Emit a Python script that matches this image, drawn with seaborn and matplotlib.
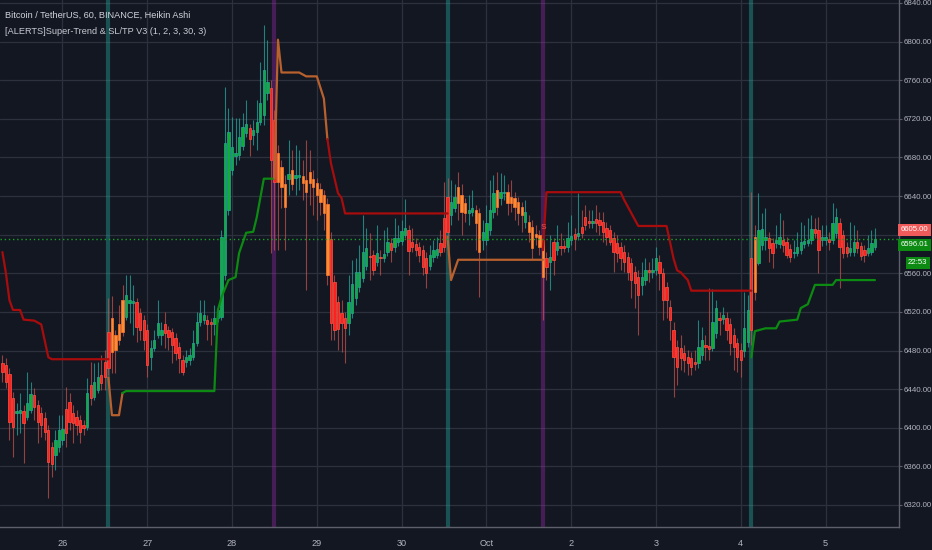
import numpy as np
import pandas as pd
import matplotlib
matplotlib.use("Agg")
import matplotlib.pyplot as plt
from matplotlib import font_manager
import seaborn as sns

# ---------------- data (hourly Heikin Ashi candles, Sep 25 07:00 -> Oct 5 14:00) ----------------
open_ = [6467,6465,6456,6431,6415,6415,6417,6411,6418,6434,
         6424,6415,6410,6398,6380,6372,6380,6387,6419,6427,
         6415,6411,6408,6403,6401,6444,6432,6439,6455,6468,
         6499,6478,6496,6491,6499,6515,6529,6529,6530,6519,
         6512,6501,6473,6483,6496,6496,6507,6501,6499,6493,
         6484,6470,6468,6470,6473,6488,6510,6512,6512,6510,
         6507,6514,6515,6558,6626,6667,6681,6683,6692,6705,
         6711,6703,6706,6717,6724,6747,6752,6719,6685,6670,
         6652,6658,6667,6659,6660,6661,6657,6654,6658,6654,
         6647,6641,6632,6596,6551,6530,6519,6514,6508,6519,
         6534,6546,6555,6568,6578,6579,6572,6577,6576,6582,
         6591,6587,6592,6593,6600,6605,6592,6590,6587,6584,
         6576,6568,6577,6579,6591,6617,6639,6620,6628,6633,
         6641,6633,6622,6624,6626,6622,6595,6595,6605,6623,
         6646,6638,6643,6644,6639,6638,6634,6629,6613,6613,
         6608,6601,6600,6595,6576,6572,6592,6584,6588,6588,
         6587,6595,6601,6599,6608,6618,6614,6612,6616,6615,
         6613,6607,6605,6597,6591,6587,6582,6577,6571,6561,
         6556,6548,6553,6563,6561,6563,6572,6560,6546,6525,
         6501,6484,6483,6477,6473,6472,6468,6467,6475,6486,
         6485,6483,6498,6514,6513,6514,6507,6496,6488,6481,
         6479,6489,6576,6541,6571,6589,6595,6597,6591,6591,
         6590,6595,6592,6585,6581,6581,6584,6590,6591,6595,
         6606,6605,6594,6595,6596,6595,6602,6612,6600,6587,
         6582,6582,6592,6588,6584,6581,6582,6587]
close = [6458,6447,6406,6401,6417,6418,6405,6426,6435,6422,
         6406,6403,6396,6365,6362,6387,6398,6399,6395,6406,
         6405,6403,6396,6400,6436,6431,6447,6453,6446,6453,
         6462,6514,6481,6507,6532,6538,6532,6531,6504,6501,
         6491,6465,6483,6491,6509,6501,6498,6494,6486,6477,
         6472,6458,6473,6475,6488,6510,6519,6517,6507,6507,
         6514,6522,6598,6695,6706,6691,6685,6701,6712,6715,
         6699,6708,6717,6736,6771,6758,6677,6655,6655,6649,
         6629,6663,6652,6662,6662,6654,6644,6665,6649,6641,
         6634,6622,6558,6509,6501,6502,6509,6503,6530,6549,
         6561,6561,6582,6586,6577,6563,6581,6576,6580,6592,
         6584,6597,6597,6604,6607,6583,6587,6584,6579,6567,
         6560,6579,6584,6585,6582,6587,6603,6634,6639,6649,
         6624,6622,6626,6628,6612,6582,6603,6612,6626,6643,
         6629,6644,6644,6633,6633,6629,6622,6620,6624,6603,
         6586,6598,6587,6556,6567,6577,6574,6592,6586,6586,
         6597,6599,6596,6602,6602,6610,6612,6614,6612,6610,
         6603,6598,6592,6582,6581,6576,6572,6561,6553,6550,
         6538,6556,6563,6561,6563,6576,6560,6532,6532,6512,
         6473,6463,6472,6470,6467,6463,6466,6484,6491,6484,
         6482,6510,6524,6512,6517,6501,6488,6484,6473,6470,
         6503,6522,6501,6598,6605,6606,6598,6586,6581,6595,
         6598,6589,6579,6577,6582,6587,6592,6593,6595,6606,
         6602,6584,6598,6598,6592,6612,6618,6587,6581,6581,
         6586,6592,6586,6578,6579,6586,6591,6596]
high = [6475,6472,6462,6437,6426,6436,6424,6458,6447,6441,
        6429,6421,6416,6403,6385,6398,6413,6413,6442,6436,
        6424,6418,6413,6408,6452,6468,6467,6468,6475,6481,
        6534,6536,6501,6527,6548,6558,6558,6548,6534,6524,
        6517,6507,6491,6501,6532,6510,6520,6505,6503,6498,
        6489,6475,6481,6483,6501,6520,6532,6532,6517,6514,
        6527,6527,6605,6753,6731,6722,6721,6721,6726,6740,
        6715,6719,6740,6779,6817,6802,6760,6729,6693,6677,
        6662,6698,6688,6693,6688,6677,6698,6688,6667,6659,
        6654,6646,6638,6603,6558,6536,6532,6520,6558,6574,
        6576,6589,6620,6607,6602,6584,6610,6584,6605,6608,
        6597,6617,6610,6615,6637,6610,6607,6597,6592,6589,
        6582,6589,6595,6598,6605,6655,6659,6657,6652,6665,
        6652,6638,6641,6646,6631,6628,6615,6631,6657,6662,
        6665,6664,6662,6652,6657,6644,6639,6634,6636,6620,
        6615,6610,6605,6610,6582,6600,6597,6610,6602,6595,
        6613,6620,6607,6643,6626,6631,6626,6626,6631,6623,
        6623,6613,6610,6603,6600,6592,6589,6582,6576,6568,
        6563,6572,6576,6572,6576,6587,6579,6565,6551,6532,
        6510,6491,6496,6486,6481,6478,6481,6512,6504,6496,
        6545,6544,6532,6520,6525,6520,6514,6503,6493,6488,
        6541,6538,6644,6610,6643,6622,6628,6603,6597,6610,
        6622,6615,6598,6590,6595,6603,6613,6610,6617,6620,
        6617,6618,6610,6610,6603,6633,6628,6617,6605,6592,
        6613,6610,6605,6592,6589,6600,6605,6607]
low = [6447,6441,6387,6370,6393,6395,6364,6408,6415,6408,
       6384,6390,6387,6327,6349,6356,6375,6382,6380,6398,
       6384,6393,6384,6393,6398,6424,6429,6436,6439,6439,
       6455,6457,6457,6486,6495,6512,6509,6496,6489,6491,
       6481,6453,6460,6479,6493,6486,6483,6481,6467,6470,
       6457,6455,6463,6465,6470,6485,6505,6507,6491,6486,
       6496,6510,6512,6553,6620,6662,6672,6677,6688,6701,
       6681,6693,6688,6714,6714,6740,6581,6584,6584,6628,
       6584,6641,6646,6641,6646,6636,6543,6631,6620,6615,
       6620,6605,6548,6491,6491,6481,6478,6467,6496,6514,
       6527,6541,6551,6563,6553,6558,6568,6558,6572,6578,
       6572,6582,6588,6589,6597,6558,6582,6578,6572,6558,
       6545,6563,6572,6576,6578,6582,6597,6610,6624,6615,
       6600,6613,6610,6619,6584,6535,6584,6589,6600,6617,
       6620,6631,6636,6620,6624,6615,6610,6603,6607,6592,
       6574,6589,6579,6512,6553,6543,6558,6579,6579,6582,
       6582,6589,6584,6595,6597,6605,6607,6607,6603,6600,
       6592,6589,6589,6561,6572,6563,6561,6553,6534,6524,
       6496,6538,6548,6551,6555,6558,6543,6512,6514,6491,
       6432,6444,6460,6458,6455,6455,6460,6462,6470,6470,
       6470,6479,6493,6496,6507,6491,6475,6460,6458,6453,
       6473,6484,6486,6532,6569,6584,6584,6572,6565,6586,
       6586,6582,6576,6572,6576,6578,6580,6586,6588,6590,
       6597,6560,6588,6589,6584,6590,6597,6545,6576,6577,
       6578,6578,6581,6574,6572,6578,6579,6584]
# candle state: g = up, r = down, o = signal (SL/TP) bar
state = list("rrrrggrggr" "rrrrrgggrr" "rrrrgrggrr" "roooogggrr" "rrggggrrrr"
             "rrggggggrr" "gggggggggg" "rgggggrroo" "ogoggooooo" "ooorrrrrgg"
             "ggggrrgrgg" "rggggrrrrr" "rgggrrrggo" "ooggoogggg" "oggooooogo"
             "oooorgrgrr" "ggrgrrrgrr" "rrrrrrrrrr" "rggrggrrrr" "rrrrrrrggr"
             "rggrgrrrrr" "ggrogggrrg" "grrrgggggg" "rrggrggrrr" "ggrrrggg")

day_ticks = [17, 41, 65, 89, 113, 137, 161, 185, 209, 233]
day_labels = ["26", "27", "28", "29", "30", "Oct", "2", "3", "4", "5"]
price_ticks = [6320, 6360, 6400, 6440, 6480, 6520, 6560, 6600, 6640, 6680, 6720, 6760, 6800, 6840]

buy_signals = [30, 126, 212]
sell_signals = [77, 153]

# Super-Trend / SL-TP line segments (candle index, price)
red_a_i = [0, 1, 2, 3, 5, 6, 9, 11, 13, 14, 30]
red_a_p = [6582, 6560, 6532, 6522, 6522, 6512, 6511, 6507, 6473, 6471, 6471]
orange_a_i = [30, 31, 33, 34]
orange_a_p = [6452, 6413, 6413, 6436]
green_a_i = [34, 35, 60, 61, 62, 64, 66, 67, 69, 71, 72, 74, 77]
green_a_p = [6436, 6438, 6438, 6522, 6535, 6553, 6556, 6581, 6602, 6603, 6618, 6658, 6658]
orange_b_i = [77, 78, 79, 84, 86, 89, 91, 92]
orange_b_p = [6658, 6802, 6768, 6768, 6764, 6764, 6741, 6699]
red_b_i = [92, 93, 95, 96, 97, 126]
red_b_p = [6699, 6674, 6643, 6638, 6622, 6622]
orange_c_i = [126, 127, 129, 153]
orange_c_p = [6598, 6553, 6574, 6574]
red_c_i = [153, 154, 175, 176, 180, 188, 190, 191, 192, 194, 195, 212]
red_c_p = [6584, 6644, 6644, 6636, 6609, 6609, 6575, 6563, 6561, 6553, 6542, 6542]
green_b_i = [212, 213, 216, 219, 220, 225, 226, 228, 230, 235, 236, 247]
green_b_p = [6473, 6500, 6503, 6503, 6510, 6512, 6524, 6528, 6548, 6548, 6553, 6553]

last_price = 6596.01
tag_price = 6605.00
countdown = "22:53"

title1 = "Bitcoin / TetherUS, 60, BINANCE, Heikin Ashi"
title2 = "[ALERTS]Super-Trend & SL/TP V3 (1, 2, 3, 30, 3)"

# ---------------- styling ----------------
n = len(close)
assert len(open_) == n == len(high) == len(low) == len(state)

sns.set_theme(style="dark")
avail = {f.name for f in font_manager.fontManager.ttflist}
narrow = "Liberation Sans Narrow" in avail
if narrow:
    plt.rcParams["font.family"] = ["Liberation Sans Narrow", "DejaVu Sans"]
    fs_tick, fs_tag, fs_x, fs_title = 7.2, 7.0, 7.4, 8.0
else:
    plt.rcParams["font.family"] = ["Liberation Sans", "DejaVu Sans"]
    fs_tick, fs_tag, fs_x, fs_title = 5.7, 5.6, 6.6, 6.6

BG = "#131722"
GRID = "#2d313d"
TXT = "#b2b5be"

fig = plt.figure(figsize=(9.32, 5.5), dpi=100, facecolor=BG)
ax = fig.add_axes([0, 23 / 550, 899 / 932, 527 / 550])
ax.set_facecolor(BG)

df = pd.DataFrame({"i": np.arange(n), "o": open_, "h": high, "l": low, "c": close, "s": state})

fill = {"g": "#0fae34", "r": "#ff2020", "o": "#ff8a30"}
edge = {"g": "#26a69a", "r": "#ff5544", "o": "#ff7a35"}
wick = {"g": "#26a69a", "r": "#c0504d", "o": "#c0504d"}

# signal bands
for s in buy_signals:
    ax.axvline(s, color="#26a69a", alpha=0.42, lw=3.0, zorder=1)
for s in sell_signals:
    ax.axvline(s, color="#9c27b0", alpha=0.38, lw=3.0, zorder=1)

# wicks
ax.vlines(df["i"], df["l"], df["h"], colors=[wick[s] for s in df["s"]], lw=0.8, alpha=0.75, zorder=2)
# bodies
body_lo = np.minimum(df["o"], df["c"])
body_h = np.maximum(np.abs(df["c"] - df["o"]), 1.2)
ax.bar(df["i"], body_h, bottom=body_lo, width=0.66,
       color=[fill[s] for s in df["s"]], edgecolor=[edge[s] for s in df["s"]],
       linewidth=0.5, zorder=3)

# trend lines
RED, GREEN, ORANGE = "#a80c0c", "#0c8a12", "#b8602e"
for xs, ys, col in [(red_a_i, red_a_p, RED), (orange_a_i, orange_a_p, ORANGE),
                    (green_a_i, green_a_p, GREEN), (orange_b_i, orange_b_p, ORANGE),
                    (red_b_i, red_b_p, RED), (orange_c_i, orange_c_p, ORANGE),
                    (red_c_i, red_c_p, RED), (green_b_i, green_b_p, GREEN)]:
    sns.lineplot(x=xs, y=ys, ax=ax, color=col, lw=1.6, sort=False, estimator=None,
                 legend=False, zorder=4)

# last price dotted line
ax.axhline(last_price, color="#17a025", lw=1.0, ls=(0, (1, 2)), zorder=4)

# small signal marker
ax.text(sell_signals[1], 6607, "S", color="#ef5350", fontsize=6, ha="center", va="center", zorder=5)

# axes
ax.set_xlim(-0.68, 253.8)
ax.set_ylim(6297.2, 6843.1)
ax.set_xticks(day_ticks)
ax.set_xticklabels(day_labels)
ax.yaxis.tick_right()
ax.set_yticks(price_ticks)
ax.set_yticklabels(["" if v == 6600 else f"{v:.2f}" for v in price_ticks])
ax.tick_params(axis="y", colors=TXT, labelsize=fs_tick, length=2.5, width=0.8, pad=1.0,
               color="#5d606b")
ax.tick_params(axis="x", colors=TXT, labelsize=fs_x, length=3, width=0.8, pad=6,
               color="#5d606b")
ax.grid(True, color=GRID, lw=0.9)
ax.set_axisbelow(True)
for side in ["top", "left"]:
    ax.spines[side].set_visible(False)
for side in ["right", "bottom"]:
    ax.spines[side].set_visible(True)
    ax.spines[side].set_color("#5d606b")
    ax.spines[side].set_linewidth(1.0)
ax.set_xlabel("")
ax.set_ylabel("")

# titles
ax.text(0.006, 0.971, title1, transform=ax.transAxes, color="#d1d4dc", fontsize=fs_title,
        ha="left", va="center", zorder=6)
ax.text(0.006, 0.940, title2, transform=ax.transAxes, color="#c8cbd3", fontsize=fs_title,
        ha="left", va="center", zorder=6)

# price tags on the right axis
tag_kw = dict(xycoords=("axes fraction", "data"), textcoords="offset points", ha="left",
              va="center", fontsize=fs_tag, color="#ffffff", annotation_clip=False, zorder=7)
ax.annotate(f"{tag_price:.2f}", xy=(1, tag_price), xytext=(1.2, 0),
            bbox=dict(boxstyle="square,pad=0.3", fc="#ef5b5b", ec="none"), **tag_kw)
ax.annotate(f"{last_price:.2f}", xy=(1, last_price), xytext=(1.2, -4.5),
            bbox=dict(boxstyle="square,pad=0.3", fc="#0c8a12", ec="none"), **tag_kw)
ax.annotate(countdown, xy=(1, last_price), xytext=(6.5, -17.5),
            bbox=dict(boxstyle="square,pad=0.3", fc="#0c8a12", ec="none"), **tag_kw)

fig.savefig("out.png", dpi=100, facecolor=BG)
